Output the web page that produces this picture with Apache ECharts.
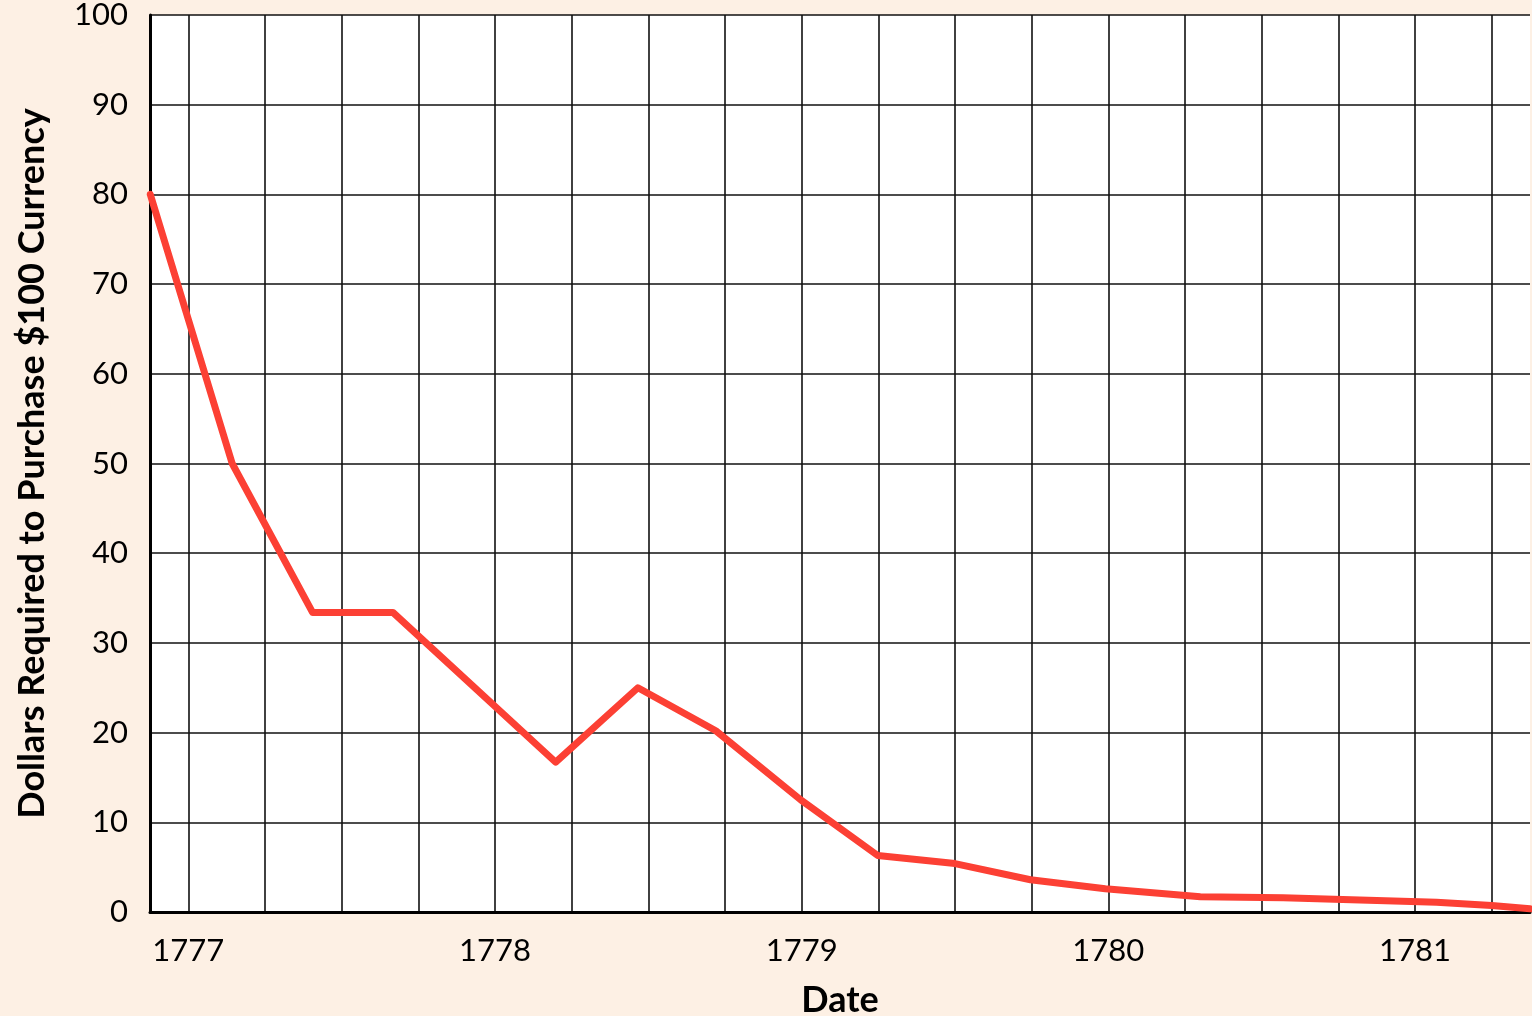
<!DOCTYPE html>
<html>
<head>
<meta charset="utf-8">
<title>Continental Currency</title>
<script src="https://cdn.jsdelivr.net/npm/echarts@6/dist/echarts.min.js"></script>
<style>
    html, body { margin: 0; padding: 0; background: #fdf0e4; }
    #main { width: 1532px; height: 1016px; }
</style>
</head>
<body>
<div id="main"></div>
<script>
//日期(年, 小数部分为年内位置)
var dates = [1776.876, 1777.143, 1777.405, 1777.667, 1778.198, 1778.466, 1778.72, 1778.997,
    1779.248, 1779.5, 1779.746, 1779.99, 1780.3, 1780.57, 1780.82, 1781.07, 1781.25, 1781.375];
//购买100元纸币所需的美元
var dollars = [80, 50, 33.4, 33.4, 16.7, 25, 20.2, 12.5,
    6.3, 5.4, 3.6, 2.6, 1.7, 1.6, 1.34, 1.08, 0.72, 0.35];
//坐标轴范围
var dateMin = 1776.875, dateMax = 1781.375;
var valueMin = 0, valueMax = 100, valueStep = 10;

(function () {
    var myChart = echarts.init(document.getElementById('main'));
    var font = 'Lato, "Open Sans", sans-serif';

    var data = [];
    for (var i = 0; i < dates.length; i++) {
        data.push([dates[i], dollars[i]]);
    }

    option = {
        backgroundColor: '#fdf0e4',
        animation: false,
        grid: {
            left: 150,
            right: 2,
            top: 15,
            bottom: 104,
            outerBoundsMode: 'none', //不让文字挤压绘图区
            show: true,
            backgroundColor: '#fff',
            borderWidth: 0
        },
        xAxis: {
            type: 'value',
            min: dateMin,
            max: dateMax,
            interval: 0.125, //每格1/8年, 只画每季度的线
            name: 'Date',
            nameLocation: 'middle',
            nameGap: 70,
            nameTextStyle: { fontFamily: font, fontSize: 36, fontWeight: 'bold', color: '#000' },
            axisLine: { show: true, onZero: false, lineStyle: { color: '#000', width: 3 } },
            axisTick: { show: false },
            axisLabel: {
                margin: 23,
                fontFamily: font,
                fontSize: 31,
                color: '#000',
                showMinLabel: true,
                showMaxLabel: true,
                formatter: function (v) {
                    return Math.abs(v - Math.round(v)) < 1e-6 ? String(Math.round(v)) : '';
                }
            },
            splitLine: {
                show: true,
                showMinLine: true,
                showMaxLine: true,
                lineStyle: { color: ['rgba(0,0,0,0)', '#111'], width: 1.6 }
            }
        },
        yAxis: {
            type: 'value',
            min: valueMin,
            max: valueMax,
            interval: valueStep,
            name: 'Dollars Required to Purchase $100 Currency',
            nameLocation: 'middle',
            nameGap: 100,
            nameTextStyle: { fontFamily: font, fontSize: 36, fontWeight: 'bold', color: '#000' },
            axisLine: { show: true, lineStyle: { color: '#000', width: 3 } },
            axisTick: { show: false },
            axisLabel: { margin: 22, padding: [10, 0, 0, 0], fontFamily: font, fontSize: 31, color: '#000' },
            splitLine: { show: true, lineStyle: { color: '#111', width: 1.6 } }
        },
        series: [
            {
                type: 'line',
                data: data,
                symbol: 'none',
                smooth: false,
                lineStyle: { color: '#fc4034', width: 7, cap: 'round', join: 'round' },
                z: 5
            }
        ]
    };

    myChart.setOption(option);
})();
</script>
</body>
</html>
